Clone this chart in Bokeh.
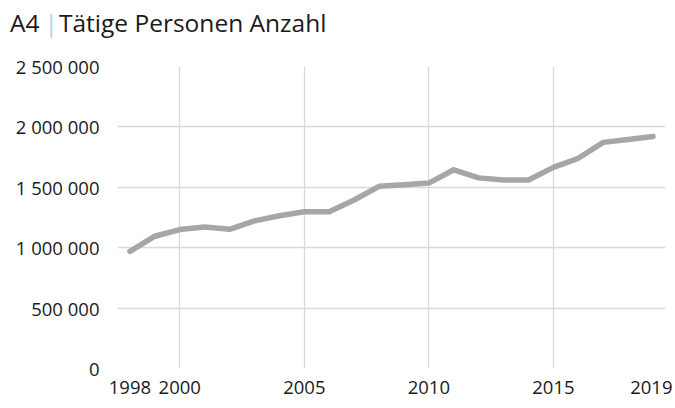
from bokeh.plotting import figure
from bokeh.models import Range1d, FixedTicker, Grid, Div
from bokeh.layouts import column
from bokeh.embed import file_html
from bokeh.resources import INLINE

years = list(range(1998, 2020))
persons = [970000, 1095000, 1150000, 1172000, 1152000, 1222000, 1265000, 1298000,
           1298000, 1395000, 1508000, 1522000, 1535000, 1645000, 1578000, 1560000,
           1560000, 1665000, 1740000, 1872000, 1896000, 1920000]

x_ticks = [1998, 2000, 2005, 2010, 2015, 2019]
x_grid = [2000, 2005, 2010, 2015]
y_ticks = [0, 500000, 1000000, 1500000, 2000000, 2500000]
y_tick_labels = ["0", "500 000", "1 000 000", "1 500 000", "2 000 000", "2 500 000"]

title_code = "A4"
title_sep = "|"
title_text = "Tätige Personen Anzahl"

FONT = "Open Sans"
W = 672
TH = 50

title_html = (
    '<div style="font-family:\'Open Sans\';font-size:24.5px;line-height:30px;'
    'color:#1a1a1a;padding:8px 0 0 10px;white-space:nowrap;margin:0;">'
    f'<span>{title_code}</span>'
    f'<span style="color:#A9D4F0;margin:0 1px 0 5px;">{title_sep}</span>'
    f'<span>{title_text}</span></div>'
)
t = Div(text=title_html, width=W, height=TH, margin=(0, 0, 0, 0))

p = figure(width=W, height=404 - TH, output_backend="svg", toolbar_location=None,
           x_range=Range1d(1997.5, 2019.5), y_range=Range1d(0, 2500000),
           min_border_left=117, min_border_right=7, min_border_top=66 - TH,
           min_border_bottom=36, margin=(0, 0, 0, 0))
p.outline_line_color = None
p.background_fill_color = "white"
p.border_fill_color = "white"

p.line(years, persons, line_color="#A6A6A6", line_width=5.5, line_cap="round",
       line_join="round")

for ax in (p.xaxis[0], p.yaxis[0]):
    ax.axis_line_color = None
    ax.major_tick_line_color = None
    ax.minor_tick_line_color = None
    ax.major_label_text_font = FONT
    ax.major_label_text_font_size = "18.5px"
    ax.major_label_text_color = "#1a1a1a"

p.xaxis.ticker = FixedTicker(ticks=x_ticks)
p.xaxis.major_label_standoff = 6
p.yaxis.ticker = FixedTicker(ticks=y_ticks)
p.yaxis.major_label_overrides = {tk: l for tk, l in zip(y_ticks, y_tick_labels)}
p.yaxis.major_label_standoff = 12

p.xgrid.visible = False
p.ygrid.grid_line_color = "#D9D9D9"
p.ygrid.grid_line_width = 1.3
p.ygrid.ticker = FixedTicker(ticks=y_ticks)
vgrid = Grid(dimension=0, ticker=FixedTicker(ticks=x_grid), grid_line_color="#D9D9D9",
             grid_line_width=1.3)
p.add_layout(vgrid, "center")

layout = column(t, p, spacing=0)
open("out.html", "w").write(file_html(layout, INLINE))
